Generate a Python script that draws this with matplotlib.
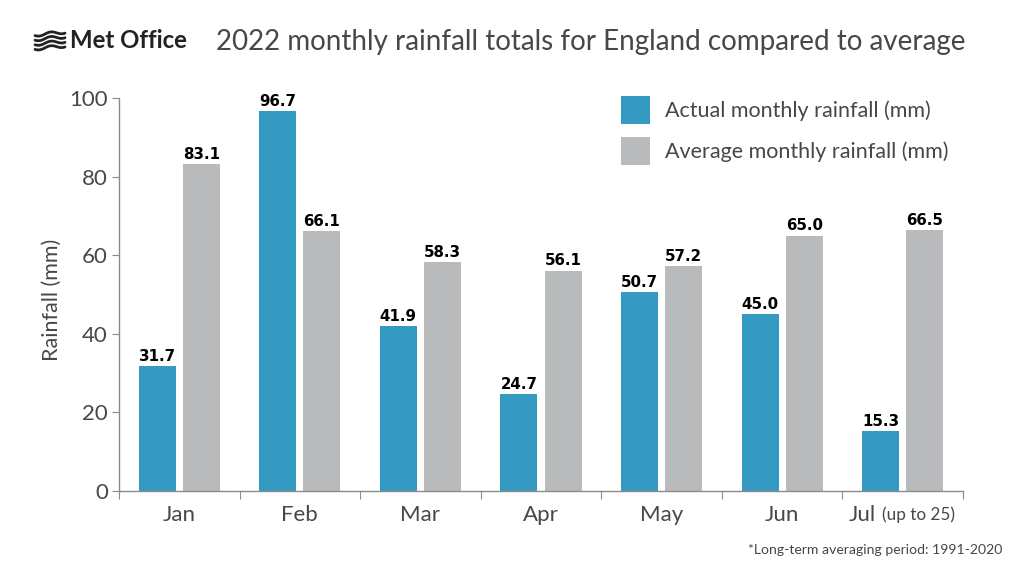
import numpy as np
import matplotlib
matplotlib.use("Agg")
import matplotlib.pyplot as plt

plt.rcParams['font.family'] = ['Lato', 'DejaVu Sans']

# Data
months = ['Jan', 'Feb', 'Mar', 'Apr', 'May', 'Jun', 'Jul']
actual = [31.7, 96.7, 41.9, 24.7, 50.7, 45.0, 15.3]
average = [83.1, 66.1, 58.3, 56.1, 57.2, 65.0, 66.5]
y_ticks = [0, 20, 40, 60, 80, 100]

BLUE = '#359ac2'
GREY = '#b9babc'
TEXT = '#474747'
AXIS = '#8a8a8a'

W, H = 1024, 576
fig = plt.figure(figsize=(W / 100, H / 100), dpi=100)
ax = fig.add_axes([119 / W, 1 - 491 / H, (963 - 119) / W, (491 - 98) / H])

x = np.arange(len(months))
bars_a = ax.bar(x - 0.183, actual, 0.307, color=BLUE, label='Actual monthly rainfall (mm)')
bars_b = ax.bar(x + 0.183, average, 0.307, color=GREY, label='Average monthly rainfall (mm)')

for bars, vals in ((bars_a, actual), (bars_b, average)):
    for b, v in zip(bars, vals):
        ax.annotate(f'{v:.1f}', (b.get_x() + b.get_width() / 2, v), xytext=(0, 1.5),
                    textcoords='offset points', ha='center', va='bottom',
                    fontsize=10.8, fontweight='bold', color='black',
                    family=['DejaVu Sans'])

ax.set_xlim(-0.5, len(months) - 0.5)
ax.set_ylim(0, 100)
ax.set_yticks(y_ticks)
ax.tick_params(axis='y', labelsize=16, labelcolor=TEXT, color=AXIS, length=5, pad=3)
# month ticks sit on the group boundaries, labels are placed separately
ax.set_xticks(np.arange(len(months) + 1) - 0.5)
ax.set_xticklabels([])
ax.tick_params(axis='x', color=AXIS, length=6)
for i, m in enumerate(months[:-1]):
    ax.text(i, -6.1, m, ha='center', va='center', fontsize=16, color=TEXT)
ax.text(5.556, -6.1, 'Jul', ha='left', va='center', fontsize=16, color=TEXT)
ax.text(5.83, -6.1, '(up to 25)', ha='left', va='center', fontsize=12.3, color=TEXT)

for s in ('top', 'right'):
    ax.spines[s].set_visible(False)
for s in ('left', 'bottom'):
    ax.spines[s].set_color(AXIS)
    ax.spines[s].set_linewidth(1)

ax.set_ylabel('Rainfall (mm)', fontsize=15.5, color=TEXT)
ax.yaxis.set_label_coords((62 - 119) / (963 - 119), 0.487)

ax.legend(loc='upper left', bbox_to_anchor=((621 - 119) / 844, 1.005), frameon=False,
          fontsize=15.5, labelcolor=TEXT, handlelength=1.35, handleheight=1.62,
          labelspacing=0.62, handletextpad=0.7, borderpad=0, borderaxespad=0)

# header
fig.text(216 / W, 1 - 42 / H, '2022 monthly rainfall totals for England compared to average',
         fontsize=20, color=TEXT, va='center', ha='left')
fig.text(70 / W, 1 - 41 / H, 'Met Office', fontsize=17.3, fontweight='bold', color='#222222',
         va='center', ha='left')

# logo waves
t = np.linspace(0, 1, 40)
for k in range(4):
    lx = (35 + 30 * t) / W
    ly = 1 - (35 + 4.6 * k - 3 * t + 1.5 * np.sin(t * 2 * np.pi * 1.3 + 0.4)) / H
    fig.add_artist(plt.Line2D(lx, ly, color='#222222', lw=2.0, solid_capstyle='round'))

fig.text(1002 / W, 1 - 550 / H, '*Long-term averaging period: 1991-2020', fontsize=10.1,
         color=TEXT, va='center', ha='right')

fig.savefig('out.png', dpi=100)
